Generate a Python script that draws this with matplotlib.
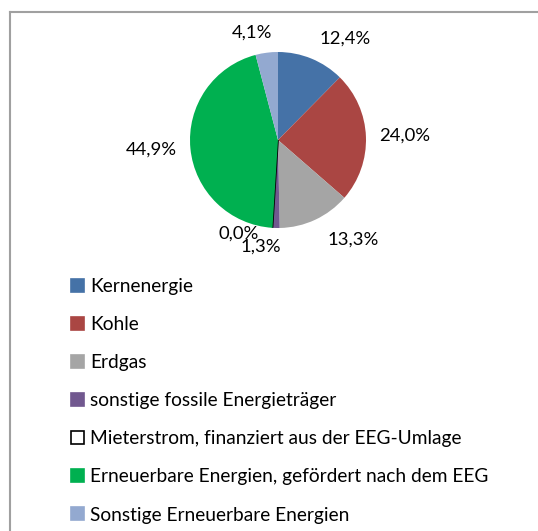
import numpy as np
import matplotlib.pyplot as plt
from matplotlib.patches import Patch
from matplotlib.lines import Line2D

# Daten
kategorien = ['Kernenergie', 'Kohle', 'Erdgas', 'sonstige fossile Energieträger',
              'Mieterstrom, finanziert aus der EEG-Umlage',
              'Erneuerbare Energien, gefördert nach dem EEG',
              'Sonstige Erneuerbare Energien']
anteile = [12.4, 24.0, 13.3, 1.3, 0.0, 44.9, 4.1]
beschriftung = ['12,4%', '24,0%', '13,3%', '1,3%', '0,0%', '44,9%', '4,1%']
farben = ['#4572A7', '#AA4643', '#A5A5A5', '#71588F', '#FFFFFF', '#00B050', '#93A9D0']

plt.rcParams['font.family'] = ['Lato', 'DejaVu Sans']

W, H = 538, 531
fig = plt.figure(figsize=(W / 100, H / 100), dpi=100)

# Rahmen (nur oben und links sichtbar)
rc = '#A0A0A0'
fig.add_artist(Line2D([10 / W, 1], [1 - 12 / H, 1 - 12 / H], color=rc, lw=1.5))
fig.add_artist(Line2D([10 / W, 10 / W], [1 - 12 / H, 0], color=rc, lw=1.5))

# Kreisdiagramm
cx, cy, r = 278, 140, 88
ax = fig.add_axes([(cx - r) / W, 1 - (cy + r) / H, 2 * r / W, 2 * r / H])
wedges, _ = ax.pie(anteile, colors=farben, startangle=90, counterclock=False,
                   radius=1, wedgeprops=dict(linewidth=0))
wedges[4].set_edgecolor('black')
wedges[4].set_linewidth(1.2)
ax.set_xlim(-1, 1)
ax.set_ylim(-1, 1)
ax.set_aspect('equal')
ax.axis('off')

# Beschriftungen (Abstand, Winkelversatz)
abstand = [1.38, 1.44, 1.42, 1.23, 1.15, 1.44, 1.25]
versatz = [-11, 0, 12, -8, -19, -1, 6]
for w, txt, d, dv in zip(wedges, beschriftung, abstand, versatz):
    th = np.deg2rad((w.theta1 + w.theta2) / 2 + dv)
    ax.text(d * np.cos(th), d * np.sin(th), txt, ha='center', va='center',
            fontsize=13.3, clip_on=False)

# Legende
handles = []
for f in farben:
    ec = 'black' if f == '#FFFFFF' else f
    handles.append(Patch(facecolor=f, edgecolor=ec, linewidth=1.2))
fig.legend(handles, kategorien, loc='upper left',
           bbox_to_anchor=(71 / W, 1 - 278 / H), frameon=False,
           fontsize=13.8, handlelength=0.68, handleheight=0.68,
           handletextpad=0.3, labelspacing=1.1, borderpad=0,
           borderaxespad=0)

fig.savefig('out.png', dpi=100)
